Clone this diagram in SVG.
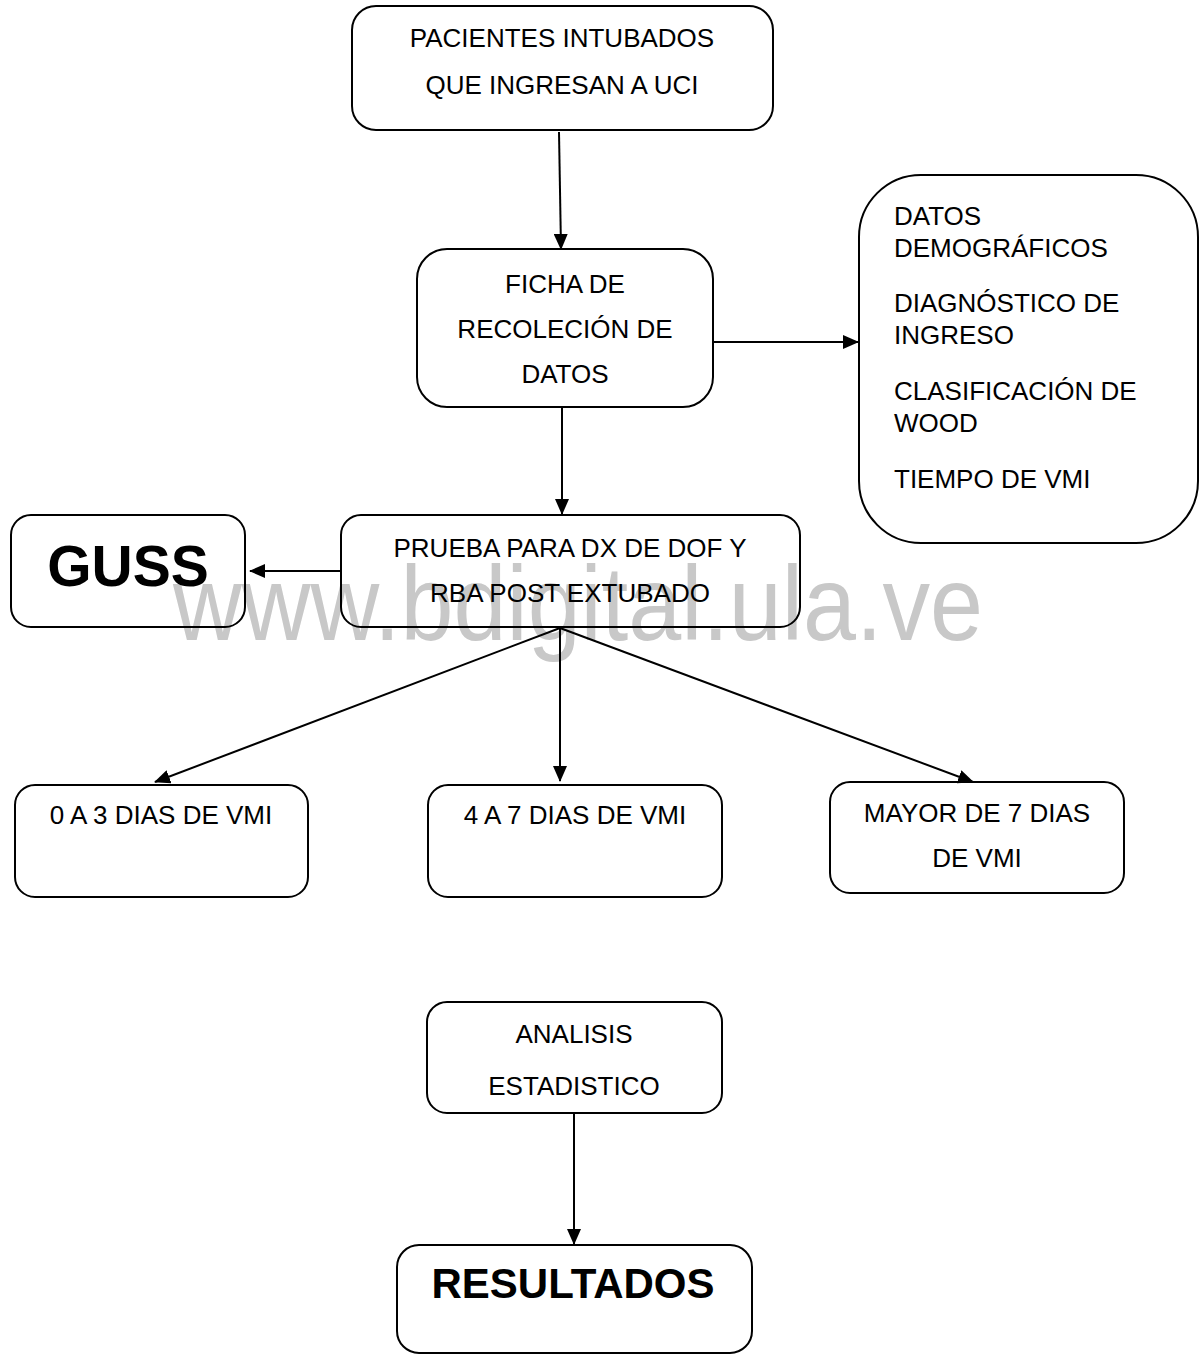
<svg xmlns="http://www.w3.org/2000/svg" width="1199" height="1355" viewBox="0 0 1199 1355">
<style>
.box{fill:none;stroke:#000;stroke-width:2}
.t{font-family:"Liberation Sans",Arial,sans-serif;font-size:26px;fill:#000}
.c{text-anchor:middle}
.b{font-weight:bold}
.ln{stroke:#000;stroke-width:2;fill:none}
.wm{font-family:"Liberation Sans",Arial,sans-serif;font-size:105px;fill:#c8c8c8}
</style>
<defs>
<marker id="ah" markerUnits="userSpaceOnUse" markerWidth="16" markerHeight="14" refX="15" refY="7" orient="auto">
<path d="M0,0 L16,7 L0,14 Z" fill="#000"/>
</marker>
</defs>
<rect width="1199" height="1355" fill="#fff"/>
<text class="wm" x="173" y="640" textLength="810" lengthAdjust="spacingAndGlyphs">www.bdigital.ula.ve</text>

<g id="connectors">
<line class="ln" x1="559" y1="132" x2="561" y2="249" marker-end="url(#ah)"/>
<line class="ln" x1="713" y1="342" x2="858" y2="342" marker-end="url(#ah)"/>
<line class="ln" x1="562" y1="407" x2="562" y2="514" marker-end="url(#ah)"/>
<line class="ln" x1="341" y1="571" x2="250" y2="571" marker-end="url(#ah)"/>
<line class="ln" x1="560" y1="628" x2="155" y2="782" marker-end="url(#ah)"/>
<line class="ln" x1="560" y1="628" x2="560" y2="781" marker-end="url(#ah)"/>
<line class="ln" x1="560" y1="628" x2="973" y2="782" marker-end="url(#ah)"/>
<line class="ln" x1="574" y1="1113" x2="574" y2="1244" marker-end="url(#ah)"/>
</g>

<g id="n-pacientes">
<rect class="box" x="352" y="6" width="421" height="124" rx="24"/>
<text class="t c" x="562" y="47">PACIENTES INTUBADOS</text>
<text class="t c" x="562" y="94">QUE INGRESAN A UCI</text>
</g>

<g id="n-ficha">
<rect class="box" x="417" y="249" width="296" height="158" rx="30"/>
<text class="t c" x="565" y="293">FICHA DE</text>
<text class="t c" x="565" y="338">RECOLECIÓN DE</text>
<text class="t c" x="565" y="383">DATOS</text>
</g>

<g id="n-datos">
<rect class="box" x="859" y="175" width="339" height="368" rx="62"/>
<text class="t" x="894" y="225">DATOS</text>
<text class="t" x="894" y="257">DEMOGRÁFICOS</text>
<text class="t" x="894" y="312">DIAGNÓSTICO DE</text>
<text class="t" x="894" y="344">INGRESO</text>
<text class="t" x="894" y="400">CLASIFICACIÓN DE</text>
<text class="t" x="894" y="432">WOOD</text>
<text class="t" x="894" y="488">TIEMPO DE VMI</text>
</g>

<g id="n-prueba">
<rect class="box" x="341" y="515" width="459" height="112" rx="20"/>
<text class="t c" x="570" y="557">PRUEBA PARA DX DE DOF Y</text>
<text class="t c" x="570" y="602">RBA POST EXTUBADO</text>
</g>

<g id="n-guss">
<rect class="box" x="11" y="515" width="234" height="112" rx="20"/>
<text class="t c b" x="128" y="586" style="font-size:57px">GUSS</text>
</g>

<g id="n-0a3">
<rect class="box" x="15" y="785" width="293" height="112" rx="20"/>
<text class="t c" x="161" y="824">0 A 3 DIAS DE VMI</text>
</g>

<g id="n-4a7">
<rect class="box" x="428" y="785" width="294" height="112" rx="20"/>
<text class="t c" x="575" y="824">4 A 7 DIAS DE VMI</text>
</g>

<g id="n-mayor">
<rect class="box" x="830" y="782" width="294" height="111" rx="20"/>
<text class="t c" x="977" y="822">MAYOR DE 7 DIAS</text>
<text class="t c" x="977" y="867">DE VMI</text>
</g>

<g id="n-analisis">
<rect class="box" x="427" y="1002" width="295" height="111" rx="20"/>
<text class="t c" x="574" y="1043">ANALISIS</text>
<text class="t c" x="574" y="1095">ESTADISTICO</text>
</g>

<g id="n-resultados">
<rect class="box" x="397" y="1245" width="355" height="108" rx="22"/>
<text class="t c b" x="573" y="1298" style="font-size:42px">RESULTADOS</text>
</g>
</svg>
